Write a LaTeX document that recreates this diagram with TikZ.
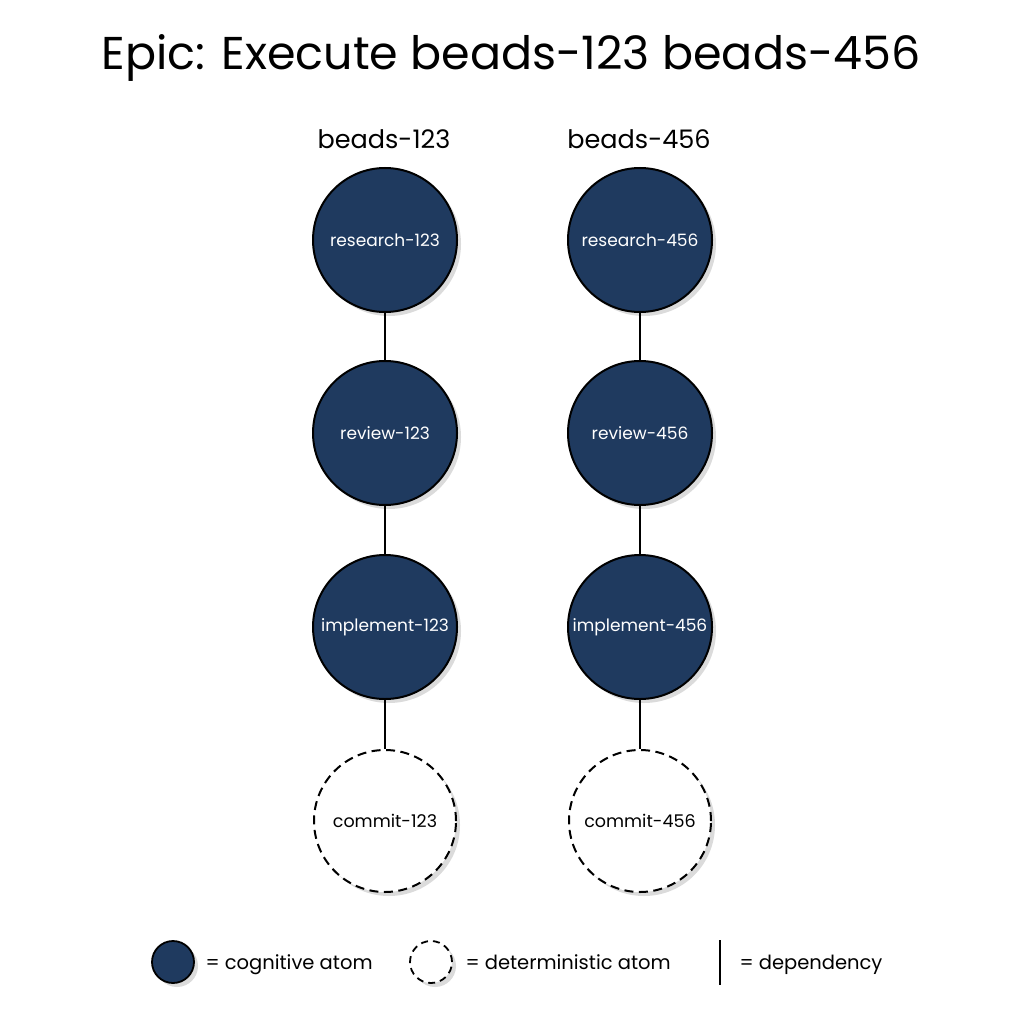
\documentclass[tikz,border=0pt]{standalone}
\usepackage{fontspec}
\setmainfont{Poppins}
\usetikzlibrary{shadows}
\definecolor{atom}{HTML}{1F3A5F}
\begin{document}
\begin{tikzpicture}[x=1pt,y=-1pt,
  shad/.style={drop shadow={shadow xshift=4pt,shadow yshift=-4pt,fill=black!14,opacity=1}},
  cog/.style={circle,draw=black,line width=2pt,fill=atom,minimum size=144pt,inner sep=0pt,text=white,font=\fontsize{17}{21}\selectfont,shad},
  det/.style={circle,draw=black,line width=2pt,dash pattern=on 9pt off 5.5pt,fill=white,minimum size=142pt,inner sep=0pt,text=black,font=\fontsize{17.5}{21}\selectfont,shad},
  dep/.style={draw=black,line width=1.5pt},
  head/.style={font=\fontsize{25.5}{30}\selectfont},
  legtext/.style={anchor=base west,font=\fontsize{19.5}{24}\selectfont}
]
\useasboundingbox[fill=white] (0,0) rectangle (1024,1024);
\node[font=\fontsize{46}{54}\selectfont] (title) at (511,58) {Epic: Execute beads-123 beads-456};
\node[head] (h1) at (384,139) {beads-123};
\node[head] (h2) at (639,139) {beads-456};
% column 1
\node[cog] (r1) at (385,240) {research-123};
\node[cog] (v1) at (385,433) {review-123};
\node[cog] (i1) at (385,627) {implement-123};
\node[det] (c1) at (385,821) {commit-123};
% column 2
\node[cog] (r2) at (640,240) {research-456};
\node[cog] (v2) at (640,433) {review-456};
\node[cog] (i2) at (640,627) {implement-456};
\node[det] (c2) at (640,821) {commit-456};
\draw[dep] (r1) -- (v1);
\draw[dep] (v1) -- (i1);
\draw[dep] (i1) -- (c1);
\draw[dep] (r2) -- (v2);
\draw[dep] (v2) -- (i2);
\draw[dep] (i2) -- (c2);
% legend
\node[cog,minimum size=42pt,line width=1.8pt,drop shadow={shadow xshift=2pt,shadow yshift=-2pt,fill=black!14,opacity=1}] (lc) at (173,962) {};
\node[legtext] (lct) at (202,969) {= cognitive atom};
\node[det,minimum size=42pt,line width=1.8pt,dash pattern=on 7pt off 5pt,drop shadow={shadow xshift=2pt,shadow yshift=-2pt,fill=black!14,opacity=1}] (ld) at (431,962) {};
\node[legtext] (ldt) at (462,969) {= deterministic atom};
\coordinate (la) at (720,940);
\coordinate (lb) at (720,985);
\draw[dep,line width=1.8pt] (la) -- (lb);
\node[legtext] (ldp) at (736,969) {= dependency};
\end{tikzpicture}
\end{document}
